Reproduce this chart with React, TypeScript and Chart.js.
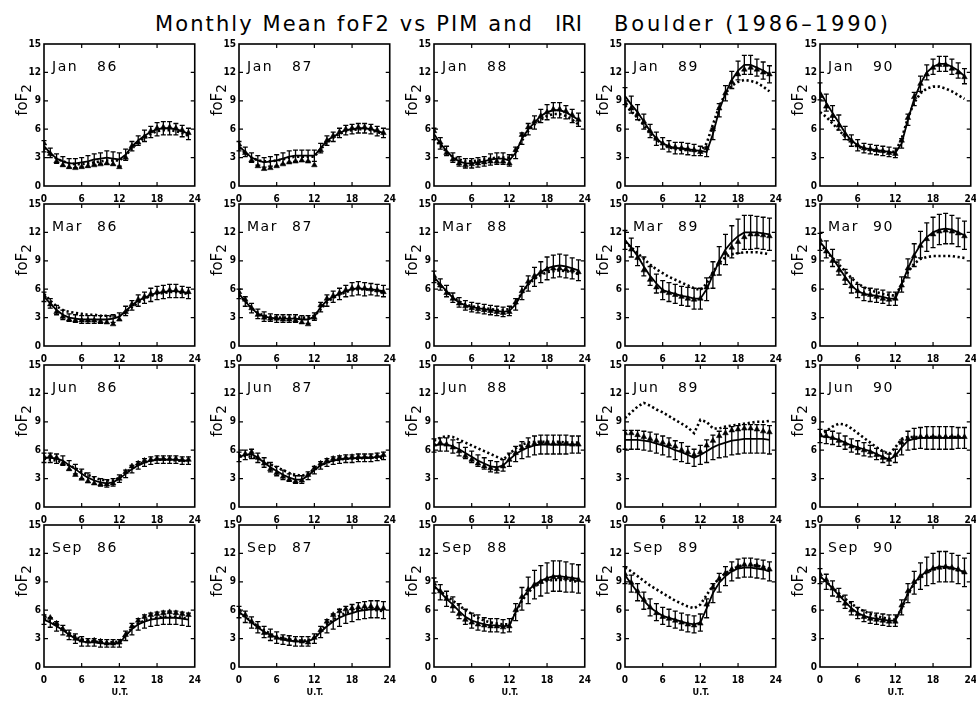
import React, { useEffect, useRef } from 'react';
import { Chart, registerables } from 'chart.js';

Chart.register(...registerables);

// Universal time (hours) of each monthly-mean sample
const HOURS = [0, 1, 2, 3, 4, 5, 6, 7, 8, 9, 10, 11, 12, 13, 14, 15, 16, 17, 18, 19, 20, 21, 22, 23];
const X_TICKS = [0, 6, 12, 18, 24];
const Y_TICKS = [0, 3, 6, 9, 12, 15];
const MONTHS = ['Jan', 'Mar', 'Jun', 'Sep'];
const YEARS = ['86', '87', '88', '89', '90'];

// ---- January ----
const jan86Obs = [4.2, 3.5, 2.9, 2.6, 2.4, 2.4, 2.5, 2.6, 2.8, 2.9, 3.0, 2.9, 2.8, 3.3, 4.2, 4.8, 5.3, 5.7, 6.0, 6.1, 6.1, 6.0, 5.8, 5.5];
const jan86Sd = [0.6, 0.5, 0.5, 0.5, 0.5, 0.5, 0.5, 0.6, 0.6, 0.6, 0.7, 0.7, 0.7, 0.6, 0.5, 0.5, 0.6, 0.6, 0.7, 0.7, 0.7, 0.6, 0.6, 0.6];
const jan86Pim = [4.5, 3.4, 2.6, 2.2, 2.0, 1.9, 2.0, 2.1, 2.2, 2.3, 2.4, 2.3, 2.0, 3.0, 4.2, 4.6, 5.2, 5.8, 6.1, 6.2, 6.2, 6.1, 5.9, 5.6];
const jan86Iri = [4.0, 3.4, 2.9, 2.6, 2.4, 2.3, 2.3, 2.4, 2.5, 2.6, 2.7, 2.7, 2.7, 3.2, 4.0, 4.6, 5.1, 5.5, 5.8, 5.9, 5.9, 5.8, 5.6, 5.3];

const jan87Obs = [4.2, 3.6, 3.0, 2.7, 2.5, 2.6, 2.7, 2.9, 3.1, 3.2, 3.2, 3.2, 3.2, 4.0, 4.8, 5.2, 5.6, 5.9, 6.0, 6.1, 6.1, 6.0, 5.8, 5.6];
const jan87Sd = [0.5, 0.5, 0.5, 0.5, 0.5, 0.5, 0.6, 0.6, 0.6, 0.6, 0.6, 0.6, 0.6, 0.5, 0.5, 0.5, 0.5, 0.5, 0.5, 0.5, 0.5, 0.5, 0.5, 0.5];
const jan87Pim = [4.4, 3.5, 2.7, 2.1, 1.8, 1.9, 2.1, 2.3, 2.5, 2.6, 2.7, 2.6, 2.2, 3.8, 4.8, 5.3, 5.7, 6.0, 6.1, 6.2, 6.2, 6.1, 5.9, 5.6];
const jan87Iri = [4.0, 3.5, 3.0, 2.7, 2.6, 2.6, 2.7, 2.8, 3.0, 3.1, 3.1, 3.1, 3.1, 3.9, 4.6, 5.1, 5.5, 5.8, 5.9, 6.0, 6.0, 5.9, 5.7, 5.5];

const jan88Obs = [5.5, 4.5, 3.7, 3.0, 2.6, 2.4, 2.4, 2.5, 2.6, 2.8, 2.9, 2.9, 2.7, 3.5, 5.0, 6.0, 6.7, 7.4, 7.8, 8.0, 8.0, 7.8, 7.4, 7.0];
const jan88Sd = [0.6, 0.6, 0.5, 0.5, 0.5, 0.5, 0.5, 0.5, 0.5, 0.6, 0.6, 0.6, 0.6, 0.6, 0.6, 0.6, 0.7, 0.7, 0.8, 0.8, 0.8, 0.7, 0.7, 0.7];
const jan88Pim = [5.8, 4.6, 3.5, 2.8, 2.4, 2.2, 2.3, 2.4, 2.5, 2.6, 2.6, 2.6, 2.4, 3.8, 5.4, 6.2, 6.8, 7.4, 7.8, 8.1, 8.1, 7.9, 7.5, 7.0];
const jan88Iri = [5.0, 4.3, 3.6, 3.1, 2.8, 2.6, 2.6, 2.7, 2.8, 2.9, 3.0, 3.0, 3.0, 3.6, 4.8, 5.8, 6.5, 7.0, 7.4, 7.6, 7.6, 7.4, 7.0, 6.5];

const jan89Obs = [9.5, 8.6, 7.8, 6.8, 5.8, 5.0, 4.5, 4.2, 4.0, 4.0, 3.9, 3.8, 3.7, 3.6, 5.5, 8.0, 9.8, 11.2, 12.2, 12.8, 12.8, 12.5, 12.2, 11.8];
const jan89Sd = [0.9, 0.9, 0.8, 0.8, 0.7, 0.7, 0.6, 0.6, 0.6, 0.6, 0.6, 0.6, 0.5, 0.5, 0.6, 0.7, 0.8, 0.9, 1.0, 1.0, 1.0, 0.9, 0.9, 0.9];
const jan89Pim = [8.8, 8.2, 7.6, 6.8, 5.8, 5.0, 4.5, 4.2, 4.1, 4.0, 3.9, 3.8, 3.6, 4.0, 6.0, 8.2, 9.8, 11.0, 11.8, 12.3, 12.5, 12.3, 12.0, 11.8];
const jan89Iri = [8.5, 7.9, 7.2, 6.4, 5.6, 4.9, 4.4, 4.1, 3.9, 3.8, 3.8, 3.7, 3.7, 4.5, 6.5, 8.4, 9.8, 10.6, 11.0, 11.2, 11.1, 10.9, 10.5, 10.0];

const jan90Obs = [10.0, 8.8, 7.7, 6.7, 5.6, 4.8, 4.3, 4.0, 3.9, 3.8, 3.7, 3.6, 3.5, 4.5, 7.0, 9.2, 10.8, 12.0, 12.6, 12.9, 12.9, 12.6, 12.2, 11.6];
const jan90Sd = [0.9, 0.9, 0.8, 0.8, 0.7, 0.6, 0.6, 0.5, 0.5, 0.5, 0.5, 0.5, 0.5, 0.5, 0.6, 0.7, 0.8, 0.8, 0.8, 0.8, 0.8, 0.8, 0.8, 0.8];
const jan90Pim = [9.5, 8.4, 7.4, 6.4, 5.5, 4.8, 4.3, 4.0, 3.9, 3.8, 3.7, 3.5, 3.4, 4.8, 7.2, 9.4, 10.8, 11.8, 12.5, 12.8, 12.8, 12.4, 12.0, 11.5];
const jan90Iri = [7.8, 7.3, 6.6, 5.9, 5.2, 4.6, 4.2, 3.9, 3.8, 3.7, 3.6, 3.6, 3.6, 5.0, 7.2, 8.8, 9.8, 10.3, 10.5, 10.5, 10.3, 10.0, 9.6, 9.2];

// ---- March ----
const mar86Obs = [5.2, 4.5, 3.8, 3.3, 3.0, 2.9, 2.8, 2.8, 2.8, 2.8, 2.8, 2.9, 3.1, 3.7, 4.3, 4.8, 5.1, 5.4, 5.6, 5.7, 5.8, 5.8, 5.7, 5.6];
const mar86Sd = [0.5, 0.5, 0.5, 0.5, 0.4, 0.4, 0.4, 0.4, 0.4, 0.4, 0.4, 0.4, 0.4, 0.5, 0.5, 0.6, 0.6, 0.7, 0.7, 0.7, 0.7, 0.7, 0.6, 0.6];
const mar86Pim = [5.3, 4.4, 3.6, 3.1, 2.8, 2.7, 2.7, 2.7, 2.7, 2.6, 2.5, 2.3, 2.8, 3.6, 4.4, 4.9, 5.2, 5.5, 5.7, 5.8, 5.9, 5.9, 5.8, 5.7];
const mar86Iri = [5.5, 4.8, 4.2, 3.8, 3.6, 3.5, 3.4, 3.3, 3.3, 3.2, 3.2, 3.1, 3.2, 3.6, 4.1, 4.6, 5.0, 5.3, 5.5, 5.6, 5.7, 5.7, 5.6, 5.5];

const mar87Obs = [5.5, 4.7, 4.0, 3.4, 3.1, 3.0, 2.9, 2.9, 2.9, 2.9, 2.8, 2.8, 3.1, 4.1, 4.8, 5.2, 5.5, 5.8, 6.0, 6.1, 6.0, 6.0, 5.9, 5.8];
const mar87Sd = [0.5, 0.5, 0.5, 0.5, 0.5, 0.4, 0.4, 0.4, 0.4, 0.4, 0.4, 0.4, 0.4, 0.5, 0.6, 0.6, 0.6, 0.6, 0.7, 0.7, 0.7, 0.6, 0.6, 0.6];
const mar87Pim = [5.7, 4.9, 4.0, 3.3, 3.0, 2.9, 2.9, 2.8, 2.8, 2.7, 2.5, 2.3, 3.0, 4.3, 5.0, 5.3, 5.6, 5.9, 6.1, 6.2, 6.1, 6.0, 5.9, 5.7];
const mar87Iri = [5.4, 4.7, 4.0, 3.5, 3.2, 3.1, 3.0, 3.0, 3.0, 3.0, 3.0, 3.0, 3.2, 3.9, 4.6, 5.1, 5.4, 5.7, 5.9, 6.0, 6.0, 5.9, 5.8, 5.7];

const mar88Obs = [7.3, 6.5, 5.8, 5.1, 4.6, 4.3, 4.1, 4.0, 3.9, 3.8, 3.7, 3.6, 3.7, 4.4, 5.6, 6.6, 7.3, 7.8, 8.2, 8.4, 8.5, 8.4, 8.2, 8.0];
const mar88Sd = [0.6, 0.6, 0.6, 0.5, 0.5, 0.5, 0.5, 0.5, 0.5, 0.5, 0.5, 0.5, 0.5, 0.6, 0.7, 0.8, 1.0, 1.1, 1.2, 1.2, 1.2, 1.2, 1.1, 1.1];
const mar88Pim = [7.4, 6.4, 5.6, 5.0, 4.5, 4.2, 4.0, 3.9, 3.8, 3.7, 3.6, 3.5, 3.6, 4.6, 5.8, 6.8, 7.4, 7.8, 8.1, 8.2, 8.2, 8.1, 8.0, 7.8];
const mar88Iri = [7.0, 6.4, 5.8, 5.2, 4.7, 4.4, 4.2, 4.1, 4.0, 3.9, 3.8, 3.8, 3.9, 4.6, 5.6, 6.5, 7.1, 7.5, 7.8, 7.9, 8.0, 7.9, 7.8, 7.6];

const mar89Obs = [11.2, 10.4, 9.5, 8.4, 7.4, 6.6, 5.9, 5.7, 5.5, 5.3, 5.2, 5.0, 5.0, 6.0, 7.5, 9.0, 10.2, 11.0, 11.6, 12.0, 12.0, 12.0, 11.9, 11.8];
const mar89Sd = [1.0, 1.0, 1.0, 1.0, 1.0, 1.0, 1.0, 1.0, 1.0, 1.0, 1.0, 1.1, 1.1, 1.2, 1.4, 1.5, 1.6, 1.7, 1.8, 1.8, 1.8, 1.7, 1.7, 1.7];
const mar89Pim = [11.0, 10.2, 9.3, 8.0, 7.0, 6.2, 5.8, 5.6, 5.4, 5.2, 5.0, 4.9, 5.0, 6.2, 7.6, 8.8, 9.8, 10.4, 11.0, 11.5, 11.8, 11.8, 11.7, 11.6];
const mar89Iri = [11.0, 10.4, 9.8, 9.2, 8.6, 8.1, 7.7, 7.3, 7.0, 6.7, 6.4, 6.1, 5.9, 6.6, 7.8, 8.8, 9.4, 9.7, 9.8, 9.9, 9.9, 9.9, 9.8, 9.7];

const mar90Obs = [11.0, 10.2, 9.3, 8.3, 7.3, 6.4, 5.8, 5.5, 5.4, 5.3, 5.2, 5.0, 5.0, 6.5, 8.2, 9.6, 10.7, 11.5, 12.0, 12.3, 12.4, 12.3, 12.0, 11.7];
const mar90Sd = [0.9, 0.9, 0.9, 0.8, 0.8, 0.8, 0.7, 0.7, 0.7, 0.7, 0.7, 0.7, 0.7, 0.8, 1.0, 1.2, 1.4, 1.5, 1.6, 1.6, 1.6, 1.5, 1.5, 1.5];
const mar90Pim = [11.2, 10.0, 9.0, 8.0, 7.1, 6.3, 5.8, 5.5, 5.4, 5.2, 5.0, 4.9, 5.0, 6.4, 8.2, 9.5, 10.6, 11.3, 11.8, 12.1, 12.2, 12.1, 11.9, 11.6];
const mar90Iri = [10.8, 10.0, 9.3, 8.6, 7.9, 7.2, 6.6, 6.2, 5.9, 5.7, 5.5, 5.4, 5.3, 6.5, 7.8, 8.7, 9.2, 9.4, 9.5, 9.5, 9.5, 9.5, 9.4, 9.3];

// ---- June ----
const jun86Obs = [5.2, 5.2, 5.1, 4.9, 4.4, 4.0, 3.5, 3.1, 2.8, 2.6, 2.5, 2.6, 3.0, 3.5, 4.0, 4.4, 4.7, 4.9, 5.0, 5.0, 5.0, 5.0, 4.9, 4.9];
const jun86Sd = [0.5, 0.5, 0.5, 0.5, 0.5, 0.5, 0.5, 0.5, 0.4, 0.4, 0.4, 0.4, 0.4, 0.4, 0.4, 0.4, 0.4, 0.4, 0.4, 0.4, 0.4, 0.4, 0.4, 0.4];
const jun86Pim = [5.3, 5.4, 5.2, 4.6, 4.0, 3.4, 3.0, 2.7, 2.5, 2.4, 2.4, 2.5, 3.0, 3.7, 4.3, 4.6, 4.9, 5.0, 5.1, 5.1, 5.1, 5.1, 5.0, 5.0];
const jun86Iri = [5.1, 5.0, 4.9, 4.7, 4.4, 4.1, 3.7, 3.4, 3.1, 2.9, 2.8, 2.8, 3.1, 3.6, 4.1, 4.5, 4.7, 4.9, 5.0, 5.0, 5.0, 4.9, 4.9, 4.8];

const jun87Obs = [5.3, 5.5, 5.6, 5.2, 4.7, 4.2, 3.8, 3.4, 3.1, 2.9, 2.9, 3.3, 3.9, 4.4, 4.7, 4.9, 5.0, 5.1, 5.1, 5.2, 5.2, 5.2, 5.3, 5.4];
const jun87Sd = [0.5, 0.5, 0.5, 0.5, 0.5, 0.5, 0.5, 0.5, 0.4, 0.4, 0.4, 0.4, 0.4, 0.4, 0.4, 0.4, 0.4, 0.4, 0.4, 0.4, 0.4, 0.4, 0.4, 0.4];
const jun87Pim = [5.4, 5.6, 5.8, 5.2, 4.6, 4.0, 3.6, 3.2, 2.9, 2.7, 2.8, 3.4, 4.1, 4.6, 4.9, 5.1, 5.2, 5.2, 5.3, 5.3, 5.3, 5.3, 5.4, 5.5];
const jun87Iri = [5.4, 5.4, 5.3, 5.1, 4.8, 4.5, 4.2, 3.9, 3.6, 3.4, 3.3, 3.5, 4.0, 4.4, 4.7, 4.9, 5.0, 5.1, 5.1, 5.1, 5.2, 5.2, 5.2, 5.2];

const jun88Obs = [6.5, 6.6, 6.6, 6.4, 6.1, 5.7, 5.3, 4.9, 4.6, 4.3, 4.2, 4.4, 5.0, 5.6, 6.0, 6.3, 6.5, 6.6, 6.6, 6.6, 6.6, 6.6, 6.6, 6.6];
const jun88Sd = [0.7, 0.7, 0.7, 0.7, 0.7, 0.6, 0.6, 0.6, 0.6, 0.6, 0.6, 0.6, 0.7, 0.8, 0.9, 1.0, 1.0, 1.0, 1.0, 1.0, 1.0, 1.0, 0.9, 0.9];
const jun88Pim = [6.6, 6.8, 6.6, 6.3, 5.9, 5.4, 5.0, 4.6, 4.3, 4.1, 4.0, 4.3, 5.0, 5.7, 6.2, 6.5, 6.7, 6.8, 6.8, 6.7, 6.7, 6.7, 6.6, 6.6];
const jun88Iri = [7.0, 7.3, 7.5, 7.4, 7.1, 6.8, 6.5, 6.2, 5.9, 5.6, 5.3, 5.0, 5.6, 6.2, 6.6, 6.8, 6.9, 6.9, 6.9, 6.9, 6.9, 6.8, 6.8, 6.8];

const jun89Obs = [7.1, 7.1, 7.1, 7.0, 6.9, 6.7, 6.5, 6.3, 6.0, 5.8, 5.5, 5.2, 5.5, 5.9, 6.3, 6.6, 6.8, 7.0, 7.1, 7.2, 7.2, 7.2, 7.2, 7.1];
const jun89Sd = [1.0, 1.0, 1.0, 1.0, 1.0, 1.0, 1.0, 1.0, 1.0, 1.0, 0.9, 0.9, 1.0, 1.2, 1.3, 1.4, 1.5, 1.5, 1.5, 1.5, 1.5, 1.5, 1.5, 1.5];
const jun89Pim = [7.8, 7.8, 7.6, 7.4, 7.2, 7.0, 6.8, 6.6, 6.4, 6.0, 5.8, 5.5, 5.8, 6.5, 7.0, 7.5, 7.8, 8.1, 8.2, 8.3, 8.3, 8.2, 8.0, 7.9];
const jun89Iri = [9.4, 10.0, 10.6, 11.0, 10.7, 10.3, 10.0, 9.6, 9.2, 8.8, 8.4, 7.8, 9.2, 9.0, 8.3, 8.3, 8.5, 8.6, 8.7, 8.8, 8.9, 9.0, 9.0, 9.1];

const jun90Obs = [7.5, 7.4, 7.3, 7.1, 6.8, 6.5, 6.3, 6.1, 5.9, 5.6, 5.3, 5.0, 5.4, 6.3, 7.0, 7.2, 7.3, 7.3, 7.3, 7.3, 7.3, 7.3, 7.3, 7.3];
const jun90Sd = [0.7, 0.7, 0.7, 0.7, 0.7, 0.7, 0.7, 0.7, 0.6, 0.6, 0.6, 0.6, 0.7, 0.8, 1.0, 1.1, 1.1, 1.2, 1.2, 1.2, 1.2, 1.2, 1.1, 1.1];
const jun90Pim = [7.6, 7.5, 7.3, 7.0, 6.7, 6.4, 6.2, 6.0, 5.8, 5.5, 5.2, 5.0, 5.5, 6.8, 7.2, 7.3, 7.4, 7.4, 7.4, 7.4, 7.4, 7.4, 7.4, 7.4];
const jun90Iri = [7.6, 8.0, 8.5, 8.8, 8.7, 8.3, 7.8, 7.3, 6.8, 6.3, 5.9, 5.6, 6.3, 7.2, 7.4, 7.4, 7.4, 7.4, 7.4, 7.4, 7.4, 7.4, 7.4, 7.4];

// ---- September ----
const sep86Obs = [5.0, 4.7, 4.3, 3.9, 3.4, 3.0, 2.7, 2.6, 2.6, 2.5, 2.5, 2.5, 2.5, 3.3, 4.0, 4.5, 4.8, 5.0, 5.1, 5.2, 5.2, 5.2, 5.1, 5.0];
const sep86Sd = [0.5, 0.5, 0.5, 0.5, 0.5, 0.5, 0.5, 0.4, 0.4, 0.4, 0.4, 0.4, 0.4, 0.5, 0.6, 0.6, 0.7, 0.7, 0.7, 0.7, 0.7, 0.7, 0.7, 0.7];
const sep86Pim = [5.4, 5.2, 4.6, 4.0, 3.4, 3.0, 2.8, 2.7, 2.8, 2.7, 2.5, 2.5, 2.6, 3.4, 4.3, 4.9, 5.3, 5.5, 5.6, 5.7, 5.8, 5.7, 5.6, 5.5];
const sep86Iri = [5.1, 4.8, 4.4, 4.0, 3.6, 3.2, 2.9, 2.8, 2.7, 2.6, 2.6, 2.6, 2.7, 3.4, 4.1, 4.6, 4.9, 5.1, 5.2, 5.3, 5.3, 5.3, 5.2, 5.1];

const sep87Obs = [5.8, 5.3, 4.7, 4.2, 3.7, 3.4, 3.1, 2.9, 2.8, 2.7, 2.7, 2.7, 3.0, 3.7, 4.3, 4.8, 5.2, 5.5, 5.7, 5.9, 6.0, 6.1, 6.1, 6.0];
const sep87Sd = [0.6, 0.6, 0.6, 0.6, 0.6, 0.6, 0.6, 0.5, 0.5, 0.5, 0.5, 0.5, 0.5, 0.6, 0.7, 0.8, 0.9, 0.9, 0.9, 0.9, 0.9, 0.9, 0.9, 0.9];
const sep87Pim = [6.0, 5.5, 4.8, 4.2, 3.6, 3.3, 3.1, 3.0, 2.9, 2.8, 2.7, 2.6, 3.1, 3.9, 4.8, 5.5, 5.9, 6.1, 6.2, 6.3, 6.4, 6.4, 6.3, 6.2];
const sep87Iri = [5.7, 5.3, 4.8, 4.3, 3.9, 3.5, 3.2, 3.0, 2.9, 2.8, 2.8, 2.8, 3.1, 3.8, 4.5, 5.0, 5.4, 5.7, 5.9, 6.0, 6.1, 6.1, 6.0, 5.9];

const sep88Obs = [8.6, 7.9, 7.2, 6.6, 5.9, 5.3, 4.9, 4.7, 4.5, 4.4, 4.4, 4.3, 4.4, 5.8, 7.2, 8.1, 8.7, 9.1, 9.4, 9.6, 9.6, 9.5, 9.4, 9.3];
const sep88Sd = [0.8, 0.8, 0.8, 0.8, 0.8, 0.8, 0.8, 0.8, 0.7, 0.7, 0.7, 0.7, 0.7, 0.9, 1.2, 1.4, 1.5, 1.6, 1.6, 1.6, 1.6, 1.6, 1.5, 1.5];
const sep88Pim = [8.8, 8.0, 7.2, 6.4, 5.6, 5.0, 4.7, 4.5, 4.4, 4.3, 4.3, 4.2, 4.3, 6.0, 7.4, 8.2, 8.7, 9.0, 9.3, 9.5, 9.5, 9.4, 9.3, 9.2];
const sep88Iri = [8.4, 8.0, 7.5, 7.0, 6.5, 6.0, 5.6, 5.2, 4.9, 4.7, 4.6, 4.5, 4.5, 5.7, 7.0, 7.9, 8.5, 8.9, 9.1, 9.2, 9.2, 9.2, 9.1, 9.0];

const sep89Obs = [9.7, 8.8, 7.9, 7.0, 6.3, 5.8, 5.4, 5.2, 5.0, 4.8, 4.6, 4.5, 4.7, 6.2, 7.8, 8.9, 9.6, 10.1, 10.4, 10.5, 10.5, 10.4, 10.3, 10.1];
const sep89Sd = [0.9, 0.9, 0.9, 0.9, 0.9, 0.9, 0.9, 0.9, 0.9, 0.9, 0.9, 0.9, 0.9, 1.0, 1.0, 1.0, 1.0, 1.0, 1.0, 1.0, 1.0, 1.0, 1.0, 1.0];
const sep89Pim = [9.8, 8.9, 8.0, 7.1, 6.3, 5.7, 5.3, 5.1, 4.9, 4.7, 4.5, 4.4, 4.6, 6.6, 8.4, 9.3, 9.9, 10.3, 10.6, 10.8, 10.8, 10.7, 10.5, 10.3];
const sep89Iri = [10.5, 10.1, 9.6, 9.1, 8.6, 8.2, 7.8, 7.4, 7.0, 6.7, 6.4, 6.2, 6.6, 7.6, 8.6, 9.4, 9.9, 10.3, 10.6, 10.8, 10.8, 10.7, 10.6, 10.4];

const sep90Obs = [9.6, 9.0, 8.3, 7.6, 6.9, 6.2, 5.7, 5.4, 5.2, 5.1, 5.0, 4.9, 4.9, 6.3, 7.8, 8.9, 9.6, 10.1, 10.4, 10.6, 10.6, 10.5, 10.3, 10.0];
const sep90Sd = [0.8, 0.8, 0.8, 0.7, 0.7, 0.7, 0.6, 0.6, 0.6, 0.6, 0.6, 0.6, 0.6, 0.8, 1.0, 1.2, 1.4, 1.5, 1.6, 1.6, 1.6, 1.5, 1.5, 1.5];
const sep90Pim = [9.8, 9.2, 8.3, 7.5, 6.7, 6.0, 5.6, 5.3, 5.1, 5.0, 4.9, 4.8, 4.8, 6.5, 8.0, 9.0, 9.6, 10.1, 10.4, 10.5, 10.6, 10.5, 10.3, 10.0];
const sep90Iri = [9.5, 9.0, 8.4, 7.8, 7.2, 6.7, 6.2, 5.9, 5.6, 5.4, 5.2, 5.1, 5.0, 6.2, 7.7, 8.8, 9.5, 10.0, 10.3, 10.5, 10.5, 10.4, 10.2, 10.0];

type Series = { obs: number[]; sd: number[]; pim: number[]; iri: number[] };

// rows = months, columns = years
const GRID: Series[][] = [
  [
    { obs: jan86Obs, sd: jan86Sd, pim: jan86Pim, iri: jan86Iri },
    { obs: jan87Obs, sd: jan87Sd, pim: jan87Pim, iri: jan87Iri },
    { obs: jan88Obs, sd: jan88Sd, pim: jan88Pim, iri: jan88Iri },
    { obs: jan89Obs, sd: jan89Sd, pim: jan89Pim, iri: jan89Iri },
    { obs: jan90Obs, sd: jan90Sd, pim: jan90Pim, iri: jan90Iri },
  ],
  [
    { obs: mar86Obs, sd: mar86Sd, pim: mar86Pim, iri: mar86Iri },
    { obs: mar87Obs, sd: mar87Sd, pim: mar87Pim, iri: mar87Iri },
    { obs: mar88Obs, sd: mar88Sd, pim: mar88Pim, iri: mar88Iri },
    { obs: mar89Obs, sd: mar89Sd, pim: mar89Pim, iri: mar89Iri },
    { obs: mar90Obs, sd: mar90Sd, pim: mar90Pim, iri: mar90Iri },
  ],
  [
    { obs: jun86Obs, sd: jun86Sd, pim: jun86Pim, iri: jun86Iri },
    { obs: jun87Obs, sd: jun87Sd, pim: jun87Pim, iri: jun87Iri },
    { obs: jun88Obs, sd: jun88Sd, pim: jun88Pim, iri: jun88Iri },
    { obs: jun89Obs, sd: jun89Sd, pim: jun89Pim, iri: jun89Iri },
    { obs: jun90Obs, sd: jun90Sd, pim: jun90Pim, iri: jun90Iri },
  ],
  [
    { obs: sep86Obs, sd: sep86Sd, pim: sep86Pim, iri: sep86Iri },
    { obs: sep87Obs, sd: sep87Sd, pim: sep87Pim, iri: sep87Iri },
    { obs: sep88Obs, sd: sep88Sd, pim: sep88Pim, iri: sep88Iri },
    { obs: sep89Obs, sd: sep89Sd, pim: sep89Pim, iri: sep89Iri },
    { obs: sep90Obs, sd: sep90Sd, pim: sep90Pim, iri: sep90Iri },
  ],
];

// plot-area geometry (page pixels)
const COL_LEFT = [44, 239, 434, 625, 820];
const ROW_TOP = [43, 203, 364, 524];
const PW = 152;
const PH = 143;
const AXIS_W = 34;
const AXIS_H = 22;
const PAD_T = 8;
const PAD_R = 12;

const TEXT_FONT = "'DejaVu Sans', 'Liberation Sans', sans-serif";
const TICK_FONT = { family: "'DejaVu Sans Condensed', 'DejaVu Sans', sans-serif", size: 10, weight: 'bold' as const };

// error bars behind the curves, frame and inward tick marks on top
const panelDecor = {
  id: 'panelDecor',
  beforeDatasetsDraw(chart: any, _args: any, opts: any) {
    const { ctx, scales } = chart;
    const xs = scales.x;
    const ys = scales.y;
    const obsData = chart.data.datasets[1].data as { x: number; y: number }[];
    const sd: number[] = opts.sd || [];
    ctx.save();
    ctx.strokeStyle = '#000';
    ctx.lineWidth = 1.3;
    ctx.beginPath();
    obsData.forEach((p, i) => {
      const s = sd[i] || 0;
      const px = xs.getPixelForValue(p.x);
      const yt = ys.getPixelForValue(p.y + s);
      const yb = ys.getPixelForValue(p.y - s);
      ctx.moveTo(px, yt);
      ctx.lineTo(px, yb);
      ctx.moveTo(px - 2.5, yt);
      ctx.lineTo(px + 2.5, yt);
      ctx.moveTo(px - 2.5, yb);
      ctx.lineTo(px + 2.5, yb);
    });
    ctx.stroke();
    ctx.restore();
  },
  afterDraw(chart: any) {
    const { ctx, chartArea: a, scales } = chart;
    const xs = scales.x;
    const ys = scales.y;
    ctx.save();
    ctx.strokeStyle = '#000';
    ctx.lineWidth = 1.6;
    ctx.strokeRect(a.left, a.top, a.right - a.left, a.bottom - a.top);
    ctx.lineWidth = 1.2;
    ctx.beginPath();
    const tl = 4;
    Y_TICKS.slice(1, -1).forEach((v) => {
      const py = ys.getPixelForValue(v);
      ctx.moveTo(a.left, py);
      ctx.lineTo(a.left + tl, py);
      ctx.moveTo(a.right, py);
      ctx.lineTo(a.right - tl, py);
    });
    X_TICKS.slice(1, -1).forEach((v) => {
      const px = xs.getPixelForValue(v);
      ctx.moveTo(px, a.top);
      ctx.lineTo(px, a.top + tl);
      ctx.moveTo(px, a.bottom);
      ctx.lineTo(px, a.bottom - tl);
    });
    ctx.stroke();
    ctx.restore();
  },
};

function Panel({ series, left, top }: { series: Series; left: number; top: number }) {
  const ref = useRef<HTMLCanvasElement>(null);

  useEffect(() => {
    const canvas = ref.current;
    if (!canvas) return;
    const toPts = (vals: number[]) => HOURS.map((h, i) => ({ x: h, y: vals[i] }));
    const chart = new Chart(canvas, {
      type: 'line',
      data: {
        datasets: [
          {
            label: 'IRI',
            data: toPts(series.iri),
            borderColor: '#000',
            borderWidth: 2.6,
            borderDash: [2.2, 2.6],
            borderCapStyle: 'butt',
            pointRadius: 0,
            fill: false,
            tension: 0,
          },
          {
            label: 'Observed',
            data: toPts(series.obs),
            borderColor: '#000',
            borderWidth: 1.8,
            pointRadius: 0,
            fill: false,
            tension: 0,
          },
          {
            label: 'PIM',
            data: toPts(series.pim),
            showLine: false,
            pointStyle: 'triangle',
            pointRadius: 3.2,
            pointBackgroundColor: '#000',
            pointBorderColor: '#000',
            pointBorderWidth: 0.6,
          },
        ],
      } as any,
      options: {
        responsive: false,
        animation: false,
        devicePixelRatio: 1,
        events: [],
        layout: { padding: { left: 0, top: PAD_T, right: PAD_R, bottom: 0 } },
        plugins: {
          legend: { display: false },
          tooltip: { enabled: false },
          panelDecor: { sd: series.sd },
        } as any,
        scales: {
          x: {
            type: 'linear',
            min: 0,
            max: 24,
            afterFit: (s: any) => {
              s.height = AXIS_H;
            },
            afterBuildTicks: (s: any) => {
              s.ticks = X_TICKS.map((v) => ({ value: v }));
            },
            ticks: { font: TICK_FONT, color: '#000', padding: 7, maxRotation: 0, autoSkip: false },
            grid: { display: false, drawTicks: false },
            border: { display: false },
          },
          y: {
            type: 'linear',
            min: 0,
            max: 15,
            afterFit: (s: any) => {
              s.width = AXIS_W;
            },
            afterBuildTicks: (s: any) => {
              s.ticks = Y_TICKS.map((v) => ({ value: v }));
            },
            ticks: { font: TICK_FONT, color: '#000', padding: 3, autoSkip: false },
            grid: { display: false, drawTicks: false },
            border: { display: false },
          },
        },
      } as any,
      plugins: [panelDecor],
    });
    return () => chart.destroy();
  }, [series]);

  return (
    <canvas
      ref={ref}
      width={AXIS_W + PW + PAD_R}
      height={PAD_T + PH + AXIS_H}
      style={{ position: 'absolute', left: left - AXIS_W, top: top - PAD_T }}
    />
  );
}

export default function App() {
  const titleStyle: React.CSSProperties = {
    position: 'absolute',
    top: 14,
    fontFamily: TEXT_FONT,
    fontSize: 21,
    lineHeight: '21px',
    whiteSpace: 'pre',
    color: '#000',
  };
  return (
    <div
      style={{
        position: 'absolute',
        left: 0,
        top: 0,
        width: 976,
        height: 702,
        background: '#fff',
        overflow: 'hidden',
      }}
    >
      <div style={{ ...titleStyle, left: 155, letterSpacing: '2.1px' }}>Monthly Mean foF2 vs PIM and</div>
      <div style={{ ...titleStyle, left: 555 }}>IRI</div>
      <div style={{ ...titleStyle, left: 614, letterSpacing: '2.9px' }}>Boulder (1986–1990)</div>

      {GRID.map((row, r) =>
        row.map((series, c) => {
          const L = COL_LEFT[c];
          const T = ROW_TOP[r];
          const labelStyle: React.CSSProperties = {
            position: 'absolute',
            top: T + 16,
            fontFamily: TEXT_FONT,
            fontSize: 14,
            lineHeight: '14px',
            letterSpacing: '1.5px',
            whiteSpace: 'pre',
            color: '#000',
          };
          return (
            <React.Fragment key={`${r}-${c}`}>
              <Panel series={series} left={L} top={T} />
              <div style={{ ...labelStyle, left: L + 8 }}>{MONTHS[r]}</div>
              <div style={{ ...labelStyle, left: L + 53 }}>{YEARS[c]}</div>
              <div
                style={{
                  position: 'absolute',
                  left: L - 22,
                  top: T + 57,
                  transform: 'translate(-50%, -50%) rotate(-90deg)',
                  fontFamily: TEXT_FONT,
                  fontSize: 15,
                  lineHeight: '15px',
                  whiteSpace: 'nowrap',
                  color: '#000',
                }}
              >
                foF<sub style={{ fontSize: '0.9em', verticalAlign: '-0.3em', lineHeight: 0 }}>2</sub>
              </div>
              {r === GRID.length - 1 && (
                <div
                  style={{
                    position: 'absolute',
                    left: L + PW / 2,
                    top: T + PH + 21,
                    transform: 'translateX(-50%)',
                    fontFamily: "'DejaVu Sans Condensed', 'DejaVu Sans', sans-serif",
                    fontWeight: 'bold',
                    fontSize: 9,
                    lineHeight: '9px',
                    whiteSpace: 'pre',
                    color: '#000',
                  }}
                >
                  U.T.
                </div>
              )}
            </React.Fragment>
          );
        })
      )}
    </div>
  );
}
